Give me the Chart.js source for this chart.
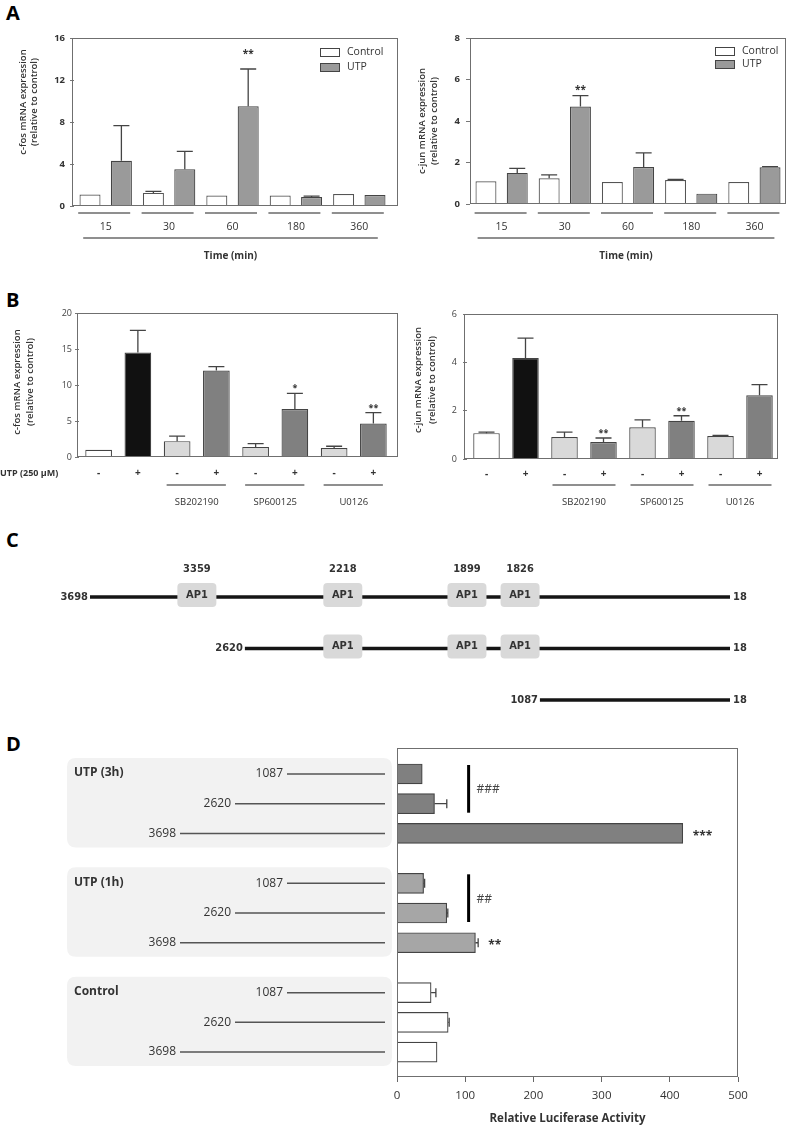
<!DOCTYPE html>
<html><head><meta charset="utf-8">
<script src="https://cdn.jsdelivr.net/npm/chart.js@4.4.1/dist/chart.umd.min.js"></script>
<style>
body{margin:0;background:#fff;width:787px;height:1130px;position:relative;overflow:hidden;font-family:'Open Sans',sans-serif;}
canvas{position:absolute;}
.lbl{position:absolute;font:700 20px 'Open Sans',sans-serif;color:#000;line-height:20px;}
</style></head><body>
<div class="lbl" style="left:6px;top:3px">A</div>
<div class="lbl" style="left:6px;top:290px">B</div>
<div class="lbl" style="left:6px;top:530px">C</div>
<div class="lbl" style="left:6px;top:734px">D</div>
<canvas id="a1" width="400" height="270" style="left:0;top:0"></canvas>
<canvas id="a2" width="387" height="270" style="left:400px;top:0"></canvas>
<canvas id="b1" width="400" height="230" style="left:0;top:290px"></canvas>
<canvas id="b2" width="387" height="230" style="left:400px;top:290px"></canvas>
<canvas id="c1" width="787" height="180" style="left:0;top:540px"></canvas>
<canvas id="d1" width="787" height="395" style="left:0;top:735px"></canvas>
<script>
// ================= DATA =================
const timeLabels = ['15', '30', '60', '180', '360'];
const cfosCtrl    = [1.1, 1.25, 1.0, 1.0, 1.15];
const cfosCtrlErr = [0, 0.15, 0, 0, 0];
const cfosUtp     = [4.3, 3.5, 9.5, 0.85, 1.05];
const cfosUtpErr  = [3.35, 1.7, 3.55, 0.1, 0];
const cfosUtpSig  = ['', '', '**', '', ''];
const cfosAxis    = [0, 16, 4];

const cjunCtrl    = [1.1, 1.24, 1.06, 1.16, 1.06];
const cjunCtrlErr = [0, 0.16, 0, 0.02, 0];
const cjunUtp     = [1.5, 4.7, 1.78, 0.5, 1.77];
const cjunUtpErr  = [0.22, 0.52, 0.68, 0, 0.03];
const cjunUtpSig  = ['', '**', '', '', ''];
const cjunAxis    = [0, 8, 2];

const utpSigns   = ['-', '+', '-', '+', '-', '+', '-', '+'];
const inhibitors = ['SB202190', 'SP600125', 'U0126'];
const cfosB      = [1.0, 14.5, 2.2, 12.0, 1.4, 6.65, 1.26, 4.65];
const cfosBErr   = [0, 3.1, 0.7, 0.55, 0.45, 2.2, 0.23, 1.5];
const cfosBSig   = ['', '', '', '', '', '*', '', '**'];
const cfosBAxis  = [0, 20, 5];
const cjunB      = [1.07, 4.18, 0.91, 0.70, 1.31, 1.58, 0.95, 2.64];
const cjunBErr   = [0.04, 0.82, 0.2, 0.17, 0.31, 0.21, 0.03, 0.44];
const cjunBSig   = ['', '', '', '**', '', '**', '', ''];
const cjunBAxis  = [0, 6, 2];

const promoterStarts = [3698, 2620, 1087];
const promoterEnd    = 18;
const ap1Sites       = [3359, 2218, 1899, 1826];

const lucGroups     = ['UTP (3h)', 'UTP (1h)', 'Control'];
const lucConstructs = ['1087', '2620', '3698'];
const luc3h     = [37, 55, 419];
const luc3hErr  = [0, 18, 0];
const luc1h     = [39, 73, 115];
const luc1hErr  = [1.5, 1.5, 4];
const lucCtrl   = [50, 75, 58.7];
const lucCtrlErr= [7, 1.5, 0];
const lucStars  = [['', '', '***'], ['', '', '**'], ['', '', '']];
const lucHash   = ['###', '##', ''];
const lucAxis   = [0, 500, 100];

// ================= HELPERS =================
const FONT = "'Open Sans','DejaVu Sans',sans-serif";
const CFONT = "'DejaVu Sans Condensed','DejaVu Sans',sans-serif";
Chart.defaults.font.family = FONT;
Chart.defaults.color = '#333';

function T(ctx, s, x, y, o = {}) {
  ctx.save();
  ctx.font = `${o.weight || 'normal'} ${o.size || 10}px ${o.family || FONT}`;
  ctx.fillStyle = o.color || '#333';
  ctx.textAlign = o.align || 'center';
  ctx.textBaseline = o.baseline || 'middle';
  ctx.fillText(s, x, y);
  ctx.restore();
}
function L(ctx, x1, y1, x2, y2, color = '#6a6a6a', w = 1.3) {
  ctx.save(); ctx.strokeStyle = color; ctx.lineWidth = w;
  ctx.beginPath(); ctx.moveTo(x1, y1); ctx.lineTo(x2, y2); ctx.stroke(); ctx.restore();
}
function VT(ctx, lines, xs, cy, o) {
  lines.forEach((s, i) => { ctx.save(); ctx.translate(xs[i], cy); ctx.rotate(-Math.PI / 2); T(ctx, s, 0, 0, o); ctx.restore(); });
}
function star(ctx, s, x, y, size, align = 'center') {
  T(ctx, s, x, y + size * 0.55, { size, weight: 'bold', baseline: 'alphabetic', align });
}
function rrect(ctx, x, y, w, h, r, fill) {
  ctx.save(); ctx.fillStyle = fill; ctx.beginPath();
  ctx.moveTo(x + r, y); ctx.lineTo(x + w - r, y); ctx.quadraticCurveTo(x + w, y, x + w, y + r);
  ctx.lineTo(x + w, y + h - r); ctx.quadraticCurveTo(x + w, y + h, x + w - r, y + h);
  ctx.lineTo(x + r, y + h); ctx.quadraticCurveTo(x, y + h, x, y + h - r);
  ctx.lineTo(x, y + r); ctx.quadraticCurveTo(x, y, x + r, y); ctx.closePath(); ctx.fill(); ctx.restore();
}

const errorBars = {
  id: 'errorBars',
  afterDatasetsDraw(chart) {
    const ctx = chart.ctx;
    const hor = chart.options.indexAxis === 'y';
    const vScale = hor ? chart.scales.x : chart.scales.y;
    chart.data.datasets.forEach((ds, di) => {
      if (!ds.errors) return;
      const meta = chart.getDatasetMeta(di);
      meta.data.forEach((el, i) => {
        const e = ds.errors[i]; if (!e) return;
        const raw = ds.data[i]; const v = typeof raw === 'object' ? raw.x : raw;
        const p = vScale.getPixelForValue(v + e);
        ctx.save(); ctx.strokeStyle = '#444'; ctx.lineWidth = 1.3; ctx.beginPath();
        if (hor) { ctx.moveTo(el.x, el.y); ctx.lineTo(p, el.y); ctx.moveTo(p, el.y - 4.5); ctx.lineTo(p, el.y + 4.5); }
        else { const cw = ds.capW || 8; ctx.moveTo(el.x, el.y); ctx.lineTo(el.x, p); ctx.moveTo(el.x - cw, p); ctx.lineTo(el.x + cw, p); }
        ctx.stroke(); ctx.restore();
      });
    });
  }
};
const frame = (l = 0, r = 0) => ({
  id: 'frame',
  afterDatasetsDraw(c) {
    const { ctx, chartArea: a } = c;
    const x0 = Math.round(a.left - l) + 0.5, x1 = Math.round(a.right + r) - 0.5;
    ctx.save(); ctx.strokeStyle = '#6f6f6f'; ctx.lineWidth = 1;
    ctx.strokeRect(x0, Math.round(a.top) + 0.5, x1 - x0, Math.round(a.bottom - a.top) - 1);
    ctx.restore();
  }
});

// ================= PANEL A =================
function decorA(c, o) {
  const { ctx, scales: { x, y } } = c;
  const n = c.data.labels.length;
  for (let i = 0; i < n; i++) { const cx = x.getPixelForValue(i); L(ctx, cx - o.gl, 213, cx + o.gr, 213); }
  const f = x.getPixelForValue(0) - o.ll, l = x.getPixelForValue(n - 1) + o.lr;
  L(ctx, f, 238, l, 238);
  T(ctx, 'Time (min)', (f + l) / 2, 256, { size: 10, weight: 'bold' });
  VT(ctx, o.title, o.tx, o.ty, { size: 9.5, weight: '600' });
  c.data.datasets.forEach((ds, i) => {
    const yy = o.legY[i];
    ctx.save(); ctx.fillStyle = ds.backgroundColor; ctx.fillRect(o.legX, yy - 4, 19, 8);
    ctx.strokeStyle = '#444'; ctx.lineWidth = 1; ctx.strokeRect(o.legX + 0.5, yy - 4 + 0.5, 19, 8); ctx.restore();
    T(ctx, ds.label, o.legX + 27, yy, { size: 10.5, align: 'left' });
  });
  const ds = c.data.datasets[1], meta = c.getDatasetMeta(1);
  o.sig.forEach((s, i) => {
    if (!s) return;
    const py = y.getPixelForValue(ds.data[i] + ds.errors[i]) - o.so;
    star(ctx, s, meta.data[i].x, py, 10);
  });
}
function makeA(id, ctrl, ctrlErr, utp, utpErr, axis, g, deco) {
  return new Chart(document.getElementById(id), {
    type: 'bar',
    data: { labels: timeLabels, datasets: [
      { label: 'Control', data: ctrl, errors: ctrlErr, backgroundColor: '#ffffff', borderColor: '#555', borderWidth: 1.2 },
      { label: 'UTP', data: utp, errors: utpErr, backgroundColor: '#9a9a9a', borderColor: '#444', borderWidth: 1.2 }
    ] },
    options: {
      responsive: false, animation: false, devicePixelRatio: 1,
      layout: { padding: { left: 0, right: g.padR, top: g.top, bottom: 0 } },
      datasets: { bar: { categoryPercentage: 0.99, barPercentage: 0.67 } },
      plugins: { legend: { display: false }, tooltip: { enabled: false } },
      scales: {
        x: { grid: { display: false, drawTicks: false }, border: { display: false },
             ticks: { padding: g.xPad, color: '#333', font: { size: 10.5 } }, afterFit: s => { s.height = g.xH; } },
        y: { min: axis[0], max: axis[1], ticks: { stepSize: axis[2], padding: g.yPad, color: '#333', font: { size: 9.5, weight: 'bold' } },
             grid: { display: true, drawOnChartArea: false, drawTicks: true, tickLength: 4, color: '#777' },
             border: { display: false }, afterFit: s => { s.width = g.yW; } }
      }
    },
    plugins: [frame(g.fl, g.fr), errorBars, { id: 'decoA', afterDraw: c => decorA(c, deco) }]
  });
}
makeA('a1', cfosCtrl, cfosCtrlErr, cfosUtp, cfosUtpErr, cfosAxis,
  { padR: 9, top: 38, xPad: 15, xH: 64, yW: 74, yPad: 5, fl: 2, fr: 7 },
  { gl: 27.5, gr: 24.5, ll: 22.5, lr: 18.5, title: ['c-fos mRNA expression', '(relative to control)'], tx: [23, 34], ty: 102,
    legX: 320, legY: [52, 67], sig: cfosUtpSig, so: 17 });
makeA('a2', cjunCtrl, cjunCtrlErr, cjunUtp, cjunUtpErr, cjunAxis,
  { padR: 1, top: 38, xPad: 17, xH: 66, yW: 70, yPad: 6, fl: 0, fr: 0 },
  { gl: 27, gr: 25, ll: 24, lr: 20, title: ['c-jun mRNA expression', '(relative to control)'], tx: [22, 34], ty: 121,
    legX: 315, legY: [51, 64], sig: cjunUtpSig, so: 8 });

// ================= PANEL B =================
const bColors = ['#ffffff', '#111111', '#d9d9d9', '#808080', '#d9d9d9', '#808080', '#d9d9d9', '#808080'];
function decorB(c, o) {
  const { ctx, scales: { x, y } } = c;
  inhibitors.forEach((name, k) => {
    const a = x.getPixelForValue(2 + 2 * k), b = x.getPixelForValue(3 + 2 * k);
    L(ctx, a - o.gl, 195, b + o.gr, 195);
    T(ctx, name, (a + b) / 2, 212, { size: 9.5 });
  });
  if (o.utp) T(ctx, 'UTP (250 µM)', 0, 183, { size: 9, weight: 'bold', align: 'left' });
  VT(ctx, o.title, o.tx, o.ty, { size: 9.5, weight: '600' });
  const ds = c.data.datasets[0], meta = c.getDatasetMeta(0);
  o.sig.forEach((s, i) => {
    if (!s) return;
    const py = y.getPixelForValue(ds.data[i] + ds.errors[i]) - o.so;
    star(ctx, s, meta.data[i].x, py, 9);
  });
}
function makeB(id, vals, errs, axis, g, deco) {
  return new Chart(document.getElementById(id), {
    type: 'bar',
    data: { labels: utpSigns, datasets: [
      { data: vals, errors: errs, backgroundColor: bColors, borderColor: '#444', borderWidth: 1.2, capW: 8 }
    ] },
    options: {
      responsive: false, animation: false, devicePixelRatio: 1,
      layout: { padding: { left: 0, right: g.padR, top: g.top, bottom: 0 } },
      datasets: { bar: { categoryPercentage: 1, barPercentage: 0.68 } },
      plugins: { legend: { display: false }, tooltip: { enabled: false } },
      scales: {
        x: { grid: { display: false, drawTicks: false }, border: { display: false },
             ticks: { padding: g.xPad, color: '#333', font: { size: 10, weight: 'bold' } }, afterFit: s => { s.height = g.xH; } },
        y: { min: axis[0], max: axis[1], ticks: { stepSize: axis[2], padding: g.yPad, color: '#444', font: { size: 9 } },
             grid: { display: true, drawOnChartArea: false, drawTicks: true, tickLength: 4, color: '#777' },
             border: { display: false }, afterFit: s => { s.width = g.yW; } }
      }
    },
    plugins: [frame(g.fl, g.fr), errorBars, { id: 'decoB', afterDraw: c => decorB(c, deco) }]
  });
}
makeB('b1', cfosB, cfosBErr, cfosBAxis,
  { padR: 7, top: 23, xPad: 10, xH: 63, yW: 79, yPad: 3, fl: 2, fr: 5 },
  { gl: 10.5, gr: 9.5, utp: true, title: ['c-fos mRNA expression', '(relative to control)'], tx: [17, 30], ty: 92, sig: cfosBSig, so: 7 });
makeB('b2', cjunB, cjunBErr, cjunBAxis,
  { padR: 8, top: 24, xPad: 9, xH: 61, yW: 67, yPad: 6, fl: 3, fr: -1 },
  { gl: 12, gr: 12, utp: false, title: ['c-jun mRNA expression', '(relative to control)'], tx: [18, 32], ty: 90, sig: cjunBSig, so: 7 });

// ================= PANEL C =================
// schematic (not-to-scale) placement of landmarks along the drawn promoter
const schematicPos = { 3698: 0, 3359: 16.7, 2620: 24.2, 2218: 39.5, 1899: 58.9, 1826: 67.2, 1087: 70.3, 18: 100 };
function decorC(c) {
  const { ctx, scales: { x, y } } = c;
  promoterStarts.forEach((s, r) => {
    const yy = y.getPixelForValue(r);
    T(ctx, String(s), x.getPixelForValue(schematicPos[s]) - 2, yy, { size: 11, weight: 'bold', family: CFONT, align: 'right' });
    T(ctx, String(promoterEnd), x.getPixelForValue(schematicPos[promoterEnd]) + 3, yy, { size: 11, weight: 'bold', family: CFONT, align: 'left' });
    ap1Sites.filter(site => site < s).forEach(site => {
      const cx = x.getPixelForValue(schematicPos[site]);
      rrect(ctx, cx - 19.5, yy - 14, 39, 24, 4, '#d9d9d9');
      T(ctx, 'AP1', cx, yy - 2, { size: 11, weight: 'bold', family: CFONT });
    });
  });
  const y0 = y.getPixelForValue(0);
  ap1Sites.forEach(site => T(ctx, String(site), x.getPixelForValue(schematicPos[site]), y0 - 28, { size: 11, weight: 'bold', family: CFONT }));
}
new Chart(document.getElementById('c1'), {
  type: 'scatter',
  data: { datasets: promoterStarts.map((s, r) => ({
    data: [{ x: schematicPos[s], y: r }, { x: schematicPos[promoterEnd], y: r }],
    showLine: true, borderColor: '#151515', borderWidth: 3.5, pointRadius: 0, clip: false, borderCapStyle: 'butt'
  })) },
  options: {
    responsive: false, animation: false, devicePixelRatio: 1,
    layout: { padding: { left: 90, right: 57, top: 57, bottom: 20 } },
    plugins: { legend: { display: false }, tooltip: { enabled: false } },
    scales: { x: { display: false, min: 0, max: 100 }, y: { display: false, min: 0, max: 2, reverse: true } }
  },
  plugins: [{ id: 'decoC', afterDatasetsDraw: decorC }]
});

// ================= PANEL D =================
const rowPos = (g, r) => g * 3.68 + r;
const lucSeries = [[luc3h, luc3hErr, '#808080'], [luc1h, luc1hErr, '#a6a6a6'], [lucCtrl, lucCtrlErr, '#ffffff']];
const lineStartX = { '1087': 287, '2620': 235, '3698': 180 };
function decorD(c) {
  const { ctx, scales: { x, y } } = c;
  lucGroups.forEach((g, gi) => {
    const y0 = y.getPixelForValue(rowPos(gi, 0)), y2 = y.getPixelForValue(rowPos(gi, 2));
    rrect(ctx, 67, y0 - 16, 325, y2 - y0 + 30, 9, '#f2f2f2');
    T(ctx, g, 74, y0 - 1, { size: 12, weight: 'bold', align: 'left' });
    lucConstructs.forEach((cn, ri) => {
      const yy = y.getPixelForValue(rowPos(gi, ri));
      L(ctx, lineStartX[cn], yy, 385, yy, '#555', 1.5);
      T(ctx, cn, lineStartX[cn] - 4, yy, { size: 12, align: 'right' });
    });
    const ds = c.data.datasets[gi], meta = c.getDatasetMeta(gi);
    lucStars[gi].forEach((s, ri) => {
      if (!s) return;
      const endPx = x.getPixelForValue(ds.data[ri].x + (ds.errors[ri] || 0));
      star(ctx, s, endPx + 10, meta.data[ri].y, 12, 'left');
    });
    if (lucHash[gi]) {
      const ya = y.getPixelForValue(rowPos(gi, 0)), yb = y.getPixelForValue(rowPos(gi, 1));
      const bx = x.getPixelForValue(105);
      L(ctx, bx, ya - 9, bx, yb + 9, '#000', 3);
      T(ctx, lucHash[gi], bx + 8, (ya + yb) / 2 + 1, { size: 12, align: 'left', color: '#444' });
    }
  });
  T(ctx, 'Relative Luciferase Activity', (c.chartArea.left + c.chartArea.right) / 2, 384, { size: 11.5, weight: 'bold' });
}
new Chart(document.getElementById('d1'), {
  type: 'bar',
  data: { datasets: lucSeries.map(([vals, errs, col], gi) => ({
    data: lucConstructs.map((cn, ri) => ({ x: vals[ri], y: rowPos(gi, ri) })),
    errors: errs, backgroundColor: col, borderColor: '#444', borderWidth: 1.2
  })) },
  options: {
    indexAxis: 'y', responsive: false, animation: false, devicePixelRatio: 1,
    layout: { padding: { left: 397, right: 49, top: 13, bottom: 0 } },
    datasets: { bar: { barThickness: 20, grouped: false } },
    plugins: { legend: { display: false }, tooltip: { enabled: false } },
    scales: {
      x: { type: 'linear', min: lucAxis[0], max: lucAxis[1], ticks: { stepSize: lucAxis[2], padding: 7, color: '#333', font: { size: 11.5 } },
           grid: { display: true, drawOnChartArea: false, drawTicks: true, tickLength: 5, color: '#666' },
           border: { display: false }, afterFit: s => { s.height = 53; } },
      y: { type: 'linear', display: false, offset: false, min: -0.875, max: 10.2, reverse: true }
    }
  },
  plugins: [frame(0, 0), errorBars, { id: 'decoD', afterDraw: decorD }]
});
</script>
</body></html>
